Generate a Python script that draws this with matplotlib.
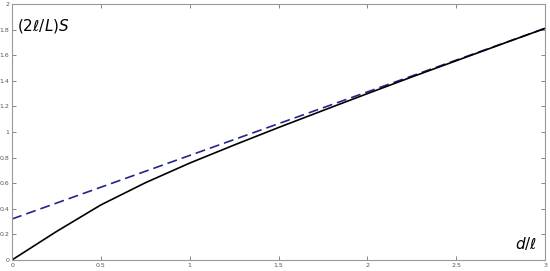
import matplotlib
matplotlib.use('Agg')
import matplotlib.pyplot as plt

# curve
d_vals = [0, 0.25, 0.5, 0.75, 1.0, 1.25, 1.5, 1.75, 2.0, 2.25, 2.5, 2.75, 3.0]
s_vals = [0, 0.222, 0.43, 0.603, 0.757, 0.898, 1.035, 1.168, 1.300, 1.430, 1.557, 1.684, 1.81]

# asymptotic dashed line
line_d = [0, 3]
line_s = [0.32, 1.81]

x_ticks = [0, 0.5, 1, 1.5, 2, 2.5, 3]
y_ticks = [0, 0.2, 0.4, 0.6, 0.8, 1, 1.2, 1.4, 1.6, 1.8, 2]

fig = plt.figure(figsize=(5.5, 2.71), dpi=100)
ax = fig.add_axes([0.022, 0.041, 0.969, 0.944])

ax.plot(line_d, line_s, color='#24248f', lw=1.2, ls=(0, (6, 3)))
ax.plot(d_vals, s_vals, color='black', lw=1.2)

ax.set_xlim(0, 3)
ax.set_ylim(0, 2)
ax.set_xticks(x_ticks)
ax.set_yticks(y_ticks)
ax.set_xticklabels(['%g' % t for t in x_ticks])
ax.set_yticklabels(['%g' % t for t in y_ticks])
ax.tick_params(direction='in', length=3, width=0.5, labelsize=4.5, pad=2,
               colors='#555555', top=True, right=True)
for s in ax.spines.values():
    s.set_color('#999999')
    s.set_linewidth(0.8)

ax.text(0.01, 0.95, r'$(2\ell/L)S$', transform=ax.transAxes, fontsize=11,
        ha='left', va='top', color='black')
ax.text(0.985, 0.03, r'$d/\ell$', transform=ax.transAxes, fontsize=11,
        ha='right', va='bottom', color='black')

plt.savefig('out.png', dpi=100)
